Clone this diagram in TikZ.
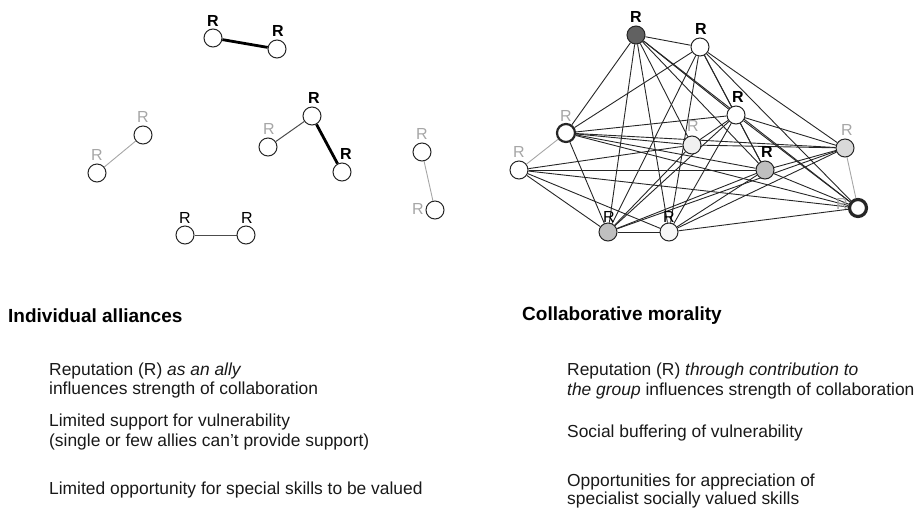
\documentclass[tikz,border=0pt]{standalone}
\usepackage{fontspec}
\setmainfont{Liberation Sans}
\usetikzlibrary{backgrounds}
\begin{document}
\begin{tikzpicture}[x=1pt,y=-1pt,
  nd/.style={circle,draw=black!85,line width=1pt,minimum size=18pt,inner sep=0pt,fill=white},
  lb/.style={font=\fontsize{16}{16}\selectfont\bfseries,inner sep=0pt},
  lg/.style={font=\fontsize{16}{16}\selectfont,text=black!35,inner sep=0pt},
  ln/.style={font=\fontsize{16}{16}\selectfont,inner sep=0pt},
  ed/.style={draw=black!85,line width=0.9pt},
  thk/.style={draw=black,line width=2.8pt},
  gry/.style={draw=black!35,line width=0.9pt},
  dk/.style={draw=black!70,line width=1pt},
  head/.style={font=\fontsize{19}{22}\selectfont\bfseries,anchor=base west,inner sep=0pt},
  body/.style={font=\fontsize{17.4}{20}\selectfont,anchor=base west,inner sep=0pt,text=black!90}]
\useasboundingbox (0,0) rectangle (918,507);

% ---------- left: individual alliances ----------
\node[nd] (p1) at (213,38) {};
\node[nd] (p2) at (277,49) {};
\node[lb] (lp1) at (213,21) {R};
\node[lb] (lp2) at (278,31) {R};

\node[nd] (q1) at (97,173) {};
\node[nd] (q2) at (143,135) {};
\node[lg] (lq1) at (97,155) {R};
\node[lg] (lq2) at (143,117) {R};

\node[nd] (t1) at (268,147) {};
\node[nd] (t2) at (312,116) {};
\node[nd] (t3) at (342,172) {};
\node[lg] (lt1) at (269,129) {R};
\node[lb] (lt2) at (314,98) {R};
\node[lb] (lt3) at (346,154) {R};

\node[nd] (v1) at (422,152) {};
\node[nd] (v2) at (435,210) {};
\node[lg] (lv1) at (422,134) {R};
\node[lg] (lv2) at (418,209) {R};

\node[nd] (w1) at (185,235) {};
\node[nd] (w2) at (246,235) {};
\node[ln] (lw1) at (185,218) {R};
\node[ln] (lw2) at (247,218) {R};

\begin{scope}[on background layer]
\draw[thk] (p1) -- (p2);
\draw[gry] (q1) -- (q2);
\draw[dk] (t1) -- (t2);
\draw[thk] (t2) -- (t3);
\draw[gry] (v1) -- (v2);
\draw[dk] (w1) -- (w2);
\end{scope}

% ---------- right: collaborative morality ----------
\node[lb] (lA) at (636,17) {R};
\node[lb] (lB) at (701,29) {R};
\node[lg] (lC) at (566,116) {R};
\node[lg] (lD) at (519,152) {R};
\node[lg] (lE) at (693,126) {R};
\node[lb] (lF) at (738,97) {R};
\node[lb] (lG) at (767,152) {R};
\node[lg] (lH) at (847,130) {R};
\node[lg] (lI) at (842,204) {R};
\node[ln] (lJ) at (609,217) {R};
\node[ln] (lK) at (669,217) {R};

\node[nd,fill=black!62] (A) at (636,35) {};
\node[nd] (B) at (700,47) {};
\node[nd,line width=2.2pt] (C) at (566,133) {};
\node[nd] (D) at (519,170) {};
\node[nd,fill=black!6] (E) at (692,145) {};
\node[nd] (F) at (736,115) {};
\node[nd,fill=black!25] (G) at (765,170) {};
\node[nd,fill=black!15] (H) at (845,148) {};
\node[nd,line width=3.2pt,minimum size=17pt] (I) at (858,208) {};
\node[nd,fill=black!25] (J) at (608,232) {};
\node[nd,fill=black!3] (K) at (669,232) {};

\begin{scope}[on background layer]
\foreach \a/\b in {A/B,A/C,A/J,A/K,A/E,A/F,A/G,A/I,
                   B/C,B/J,B/K,B/F,B/G,B/H,B/I,
                   C/F,C/E,C/H,C/G,C/I,C/J,
                   D/E,D/G,D/I,D/K,D/J,
                   E/F,E/H,E/J,
                   F/G,F/H,F/I,F/J,F/K,
                   G/H,G/I,G/J,G/K,
                   H/J,H/K,
                   I/K,J/K}
  \draw[ed] (\a) -- (\b);
\draw[gry] (C) -- (D);
\draw[gry] (H) -- (I);
\end{scope}

% ---------- texts ----------
\node[head] (h1) at (8,322) {Individual alliances};
\node[body] (l1) at (49,375) {Reputation (R) \textit{as an ally}};
\node[body] (l2) at (49,394) {influences strength of collaboration};
\node[body] (l3) at (49,426) {Limited support for vulnerability};
\node[body] (l4) at (49,446) {(single or few allies can’t provide support)};
\node[body] (l5) at (49,494) {Limited opportunity for special skills to be valued};

\node[head] (h2) at (522,320) {Collaborative morality};
\node[body] (r1) at (567,375) {Reputation (R) \textit{through contribution to}};
\node[body] (r2) at (567,395) {\textit{the group} influences strength of collaboration};
\node[body] (r3) at (567,437) {Social buffering of vulnerability};
\node[body] (r4) at (567,486) {Opportunities for appreciation of};
\node[body] (r5) at (567,504) {specialist socially valued skills};
\end{tikzpicture}
\end{document}
